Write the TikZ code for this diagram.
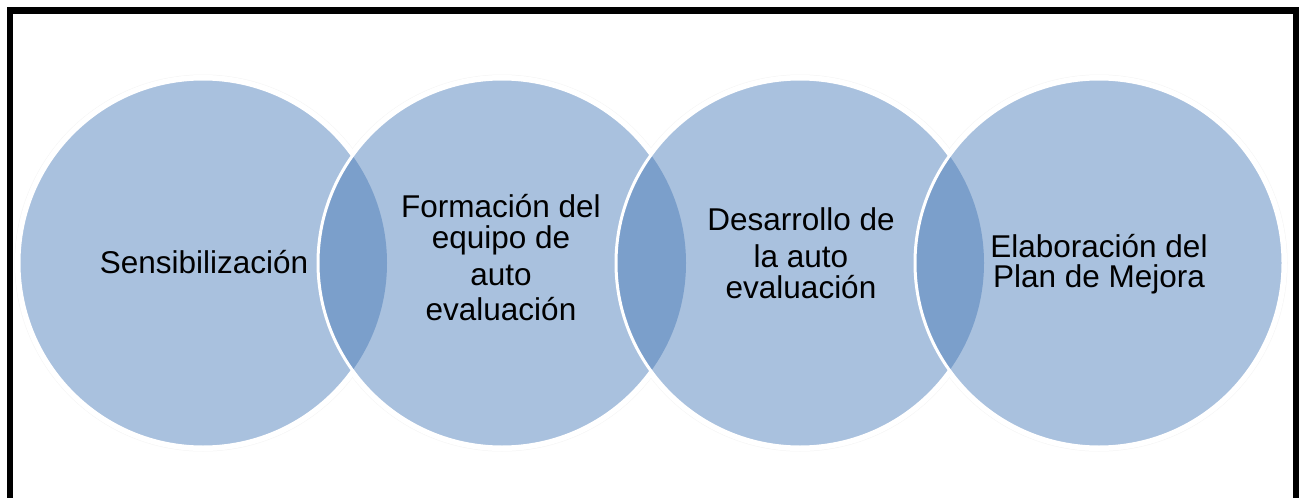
\documentclass[tikz,border=0pt]{standalone}
\usepackage{fontspec}
\setmainfont{Liberation Sans}
\definecolor{cfill}{RGB}{169,193,222}
\definecolor{clens}{RGB}{123,159,203}
\tikzset{
  disc/.style={fill=cfill},
  lens/.style={fill=clens},
  rim/.style={draw=white,line width=3},
  halo/.style={draw=black!4,line width=1},
  lbl/.style={anchor=base,inner sep=0pt,font=\fontsize{31.5}{37}\selectfont,text=black}
}
\begin{document}
\begin{tikzpicture}[x=1pt,y=-1pt]
\useasboundingbox (0,0) rectangle (1299,498);
\clip (0,0) rectangle (1299,498);
\fill[white] (0,0) rectangle (1299,498);
\draw[line width=6.5] (10,510) -- (10,10.5) -- (1296,10.5) -- (1296,510);

\coordinate (c1) at (203,263);
\coordinate (c2) at (502,263);
\coordinate (c3) at (800,263);
\coordinate (c4) at (1099,263);

% halos
\foreach \c in {c1,c2,c3,c4}{\path[halo] (\c) circle[radius=188];}
\foreach \c in {c1,c2,c3,c4}{\path[draw=white,line width=6] (\c) circle[radius=185];}

% circle 1
\path[disc] (c1) circle[radius=184];
\path[rim] (c1) circle[radius=184];
% circle 2
\path[disc] (c2) circle[radius=184];
\begin{scope}
  \clip (c1) circle[radius=184];
  \path[lens] (c2) circle[radius=184];
\end{scope}
\path[rim] (c2) circle[radius=184];
% circle 3
\path[disc] (c3) circle[radius=184];
\begin{scope}
  \clip (c2) circle[radius=184];
  \path[lens] (c3) circle[radius=184];
\end{scope}
\path[rim] (c3) circle[radius=184];
% circle 4
\path[disc] (c4) circle[radius=184];
\begin{scope}
  \clip (c3) circle[radius=184];
  \path[lens] (c4) circle[radius=184];
\end{scope}
\path[rim] (c4) circle[radius=184];

% labels
\node[lbl] (t1) at (204,273) {Sensibilización};

\node[lbl] (t2a) at (501,217) {Formación del};
\node[lbl] (t2b) at (501,248) {equipo de};
\node[lbl] (t2c) at (501,285) {auto};
\node[lbl] (t2d) at (501,320) {evaluación};

\node[lbl] (t3a) at (801,230) {Desarrollo de};
\node[lbl] (t3b) at (801,267) {la auto};
\node[lbl] (t3c) at (801,298) {evaluación};

\node[lbl] (t4a) at (1099,257) {Elaboración del};
\node[lbl] (t4b) at (1099,287) {Plan de Mejora};
\end{tikzpicture}
\end{document}
